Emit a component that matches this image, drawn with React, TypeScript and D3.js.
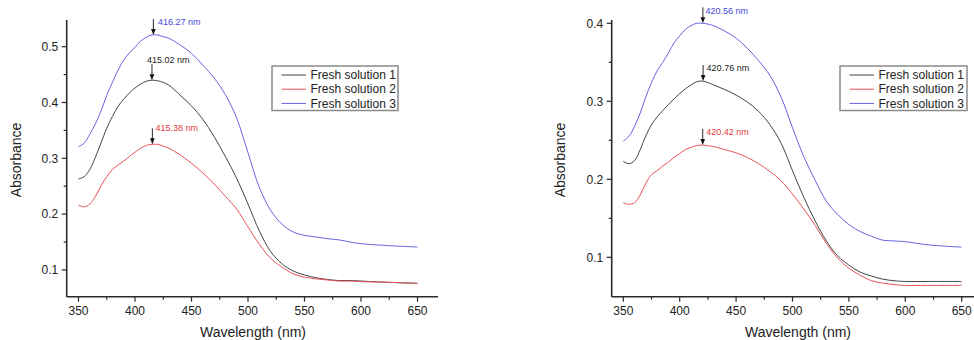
import React from "react";
import * as d3 from "d3";

const wavelengths = [350, 355, 360, 365, 370, 375, 380, 385, 390, 395, 400, 405, 410, 415, 420, 425, 430, 440, 450, 460, 470, 480, 490, 500, 510, 520, 530, 540, 550, 560, 570, 580, 590, 600, 620, 650];

// Left panel
const leftSol1 = [0.263, 0.267, 0.280, 0.302, 0.328, 0.354, 0.375, 0.393, 0.406, 0.417, 0.426, 0.433, 0.438, 0.440, 0.439, 0.436, 0.431, 0.413, 0.394, 0.370, 0.339, 0.303, 0.264, 0.218, 0.170, 0.133, 0.111, 0.098, 0.091, 0.086, 0.083, 0.081, 0.081, 0.080, 0.078, 0.076];
const leftSol2 = [0.216, 0.213, 0.218, 0.232, 0.251, 0.267, 0.280, 0.288, 0.295, 0.303, 0.311, 0.318, 0.323, 0.325, 0.325, 0.322, 0.318, 0.306, 0.291, 0.274, 0.254, 0.232, 0.209, 0.177, 0.146, 0.121, 0.105, 0.093, 0.087, 0.084, 0.082, 0.080, 0.080, 0.079, 0.078, 0.076];
const leftSol3 = [0.321, 0.327, 0.343, 0.362, 0.385, 0.413, 0.436, 0.458, 0.476, 0.489, 0.499, 0.510, 0.517, 0.521, 0.521, 0.518, 0.515, 0.503, 0.488, 0.467, 0.444, 0.414, 0.372, 0.310, 0.248, 0.207, 0.182, 0.168, 0.162, 0.159, 0.156, 0.154, 0.150, 0.147, 0.144, 0.141];
const leftPeaks = [415.02, 415.38, 416.27];

// Right panel
const rightSol1 = [0.223, 0.220, 0.224, 0.238, 0.256, 0.270, 0.280, 0.288, 0.296, 0.303, 0.310, 0.316, 0.321, 0.325, 0.326, 0.324, 0.321, 0.315, 0.308, 0.299, 0.287, 0.270, 0.246, 0.211, 0.177, 0.147, 0.121, 0.102, 0.090, 0.081, 0.076, 0.072, 0.070, 0.069, 0.069, 0.069];
const rightSol2 = [0.170, 0.168, 0.170, 0.180, 0.195, 0.206, 0.211, 0.217, 0.222, 0.228, 0.233, 0.238, 0.241, 0.243, 0.244, 0.243, 0.242, 0.238, 0.234, 0.228, 0.220, 0.210, 0.198, 0.181, 0.162, 0.141, 0.118, 0.099, 0.086, 0.077, 0.070, 0.067, 0.065, 0.064, 0.064, 0.064];
const rightSol3 = [0.249, 0.255, 0.268, 0.285, 0.306, 0.324, 0.339, 0.350, 0.362, 0.375, 0.384, 0.392, 0.397, 0.400, 0.400, 0.399, 0.397, 0.390, 0.381, 0.368, 0.352, 0.333, 0.305, 0.266, 0.229, 0.199, 0.172, 0.155, 0.142, 0.133, 0.127, 0.122, 0.121, 0.120, 0.116, 0.113];
const rightPeaks = [420.76, 420.42, 420.56];

const seriesNames = ["Fresh solution 1", "Fresh solution 2", "Fresh solution 3"];
const seriesColors = ["#444444", "#ea5257", "#6464e2"];
const labelColors = ["#222222", "#e23a3a", "#4848e0"];

const xMajorTicks = [350, 400, 450, 500, 550, 600, 650];
const xMinorTicks = [375, 425, 475, 525, 575, 625];
const leftYMajor = [0.1, 0.2, 0.3, 0.4, 0.5];
const leftYMinor = [0.15, 0.25, 0.35, 0.45];
const rightYMajor = [0.1, 0.2, 0.3, 0.4];
const rightYMinor = [0.15, 0.25, 0.35];

const FONT = "Arial, 'Liberation Sans', sans-serif";

type PanelProps = {
  series: number[][];
  peaks: number[];
  xRange: [number, number];
  axisX: [number, number];
  yDomain: [number, number];
  yRange: [number, number];
  axisYTop: number;
  axisYBottom: number;
  yMajor: number[];
  yMinor: number[];
  legendX: number;
  legendW: number;
  yTitleX: number;
  xTitleX: number;
  labelOffsets: { dx: number; dy: number }[];
};

function Panel(p: PanelProps) {
  const x = d3.scaleLinear().domain([350, 650]).range(p.xRange);
  const y = d3.scaleLinear().domain(p.yDomain).range(p.yRange);
  const line = d3
    .line<number>()
    .x((_, i) => x(wavelengths[i]))
    .y((d) => y(d))
    .curve(d3.curveCatmullRom.alpha(0.5));
  const axisColor = "#2a2a2a";
  const yb = p.axisYBottom;
  const yAxisX = p.axisX[0];
  return (
    <g>
      {p.series.map((s, i) => (
        <path key={i} d={line(s) || ""} fill="none" stroke={seriesColors[i]} strokeWidth={1} />
      ))}
      {/* axes */}
      <line x1={p.axisX[0]} x2={p.axisX[1]} y1={yb} y2={yb} stroke={axisColor} strokeWidth={1.6} />
      <line x1={yAxisX} x2={yAxisX} y1={p.axisYTop} y2={yb} stroke={axisColor} strokeWidth={1.6} />
      {xMajorTicks.map((t) => (
        <g key={"xM" + t}>
          <line x1={x(t)} x2={x(t)} y1={yb} y2={yb + 5} stroke={axisColor} strokeWidth={1.2} />
          <text x={x(t)} y={315} textAnchor="middle" fontSize={12} fontFamily={FONT} fill="#222">
            {t}
          </text>
        </g>
      ))}
      {xMinorTicks.map((t) => (
        <line key={"xm" + t} x1={x(t)} x2={x(t)} y1={yb} y2={yb + 3} stroke={axisColor} strokeWidth={1.2} />
      ))}
      {p.yMajor.map((t) => (
        <g key={"yM" + t}>
          <line x1={yAxisX - 5} x2={yAxisX} y1={y(t)} y2={y(t)} stroke={axisColor} strokeWidth={1.2} />
          <text x={yAxisX - 8.5} y={y(t) + 4.2} textAnchor="end" fontSize={12} fontFamily={FONT} fill="#222">
            {t.toFixed(1)}
          </text>
        </g>
      ))}
      {p.yMinor.map((t) => (
        <line key={"ym" + t} x1={yAxisX - 3} x2={yAxisX} y1={y(t)} y2={y(t)} stroke={axisColor} strokeWidth={1.2} />
      ))}
      {/* titles */}
      <text
        transform={`translate(${p.yTitleX},160) rotate(-90)`}
        textAnchor="middle"
        fontSize={14}
        fontFamily={FONT}
        fill="#222"
      >
        Absorbance
      </text>
      <text x={p.xTitleX} y={336.5} textAnchor="middle" fontSize={14} fontFamily={FONT} fill="#222">
        Wavelength (nm)
      </text>
      {/* peak annotations */}
      {p.peaks.map((pk, i) => {
        const peakVal = d3.max(p.series[i]) as number;
        const px = x(pk);
        const tip = y(peakVal);
        const top = tip - 16;
        const off = p.labelOffsets[i];
        return (
          <g key={"pk" + i}>
            <line x1={px} x2={px} y1={top} y2={tip - 5} stroke="#111" strokeWidth={0.9} />
            <path d={`M${px - 2.3},${tip - 6} L${px + 2.3},${tip - 6} L${px},${tip} Z`} fill="#111" />
            <text x={px + off.dx} y={top + off.dy} fontSize={9} fontFamily={FONT} fill={labelColors[i]}>
              {pk.toFixed(2)} nm
            </text>
          </g>
        );
      })}
      {/* legend */}
      <rect x={p.legendX} y={66} width={p.legendW} height={44.5} fill="#fff" stroke="#8a8a8a" strokeWidth={1.5} />
      {seriesNames.map((n, i) => (
        <g key={"lg" + i}>
          <line
            x1={p.legendX + 9.5}
            x2={p.legendX + 34}
            y1={75 + i * 14.2}
            y2={75 + i * 14.2}
            stroke={seriesColors[i]}
            strokeWidth={1}
          />
          <text x={p.legendX + 38.5} y={75 + i * 14.2 + 4.2} fontSize={12} fontFamily={FONT} fill="#222">
            {n}
          </text>
        </g>
      ))}
    </g>
  );
}

export default function App() {
  return (
    <svg
      width={974}
      height={340}
      style={{ position: "absolute", left: 0, top: 0, background: "#fff" }}
    >
      <rect width={974} height={340} fill="#fff" />
      <Panel
        series={[leftSol1, leftSol2, leftSol3]}
        peaks={leftPeaks}
        xRange={[78.5, 417.5]}
        axisX={[66.7, 438]}
        yDomain={[0.5, 0.1]}
        yRange={[46.7, 269.9]}
        axisYTop={20}
        axisYBottom={296.7}
        yMajor={leftYMajor}
        yMinor={leftYMinor}
        legendX={272}
        legendW={126}
        yTitleX={20.5}
        xTitleX={253}
        labelOffsets={[
          { dx: -5, dy: -1 },
          { dx: 3, dy: 3 },
          { dx: 4.5, dy: 6 },
        ]}
      />
      <Panel
        series={[rightSol1, rightSol2, rightSol3]}
        peaks={rightPeaks}
        xRange={[623.3, 961.7]}
        axisX={[611.7, 975]}
        yDomain={[0.4, 0.1]}
        yRange={[23.3, 257.3]}
        axisYTop={20}
        axisYBottom={296.7}
        yMajor={rightYMajor}
        yMinor={rightYMinor}
        legendX={840}
        legendW={127}
        yTitleX={565}
        xTitleX={798}
        labelOffsets={[
          { dx: 3.5, dy: 6 },
          { dx: 3.5, dy: 6 },
          { dx: 2.5, dy: 6.5 },
        ]}
      />
    </svg>
  );
}
